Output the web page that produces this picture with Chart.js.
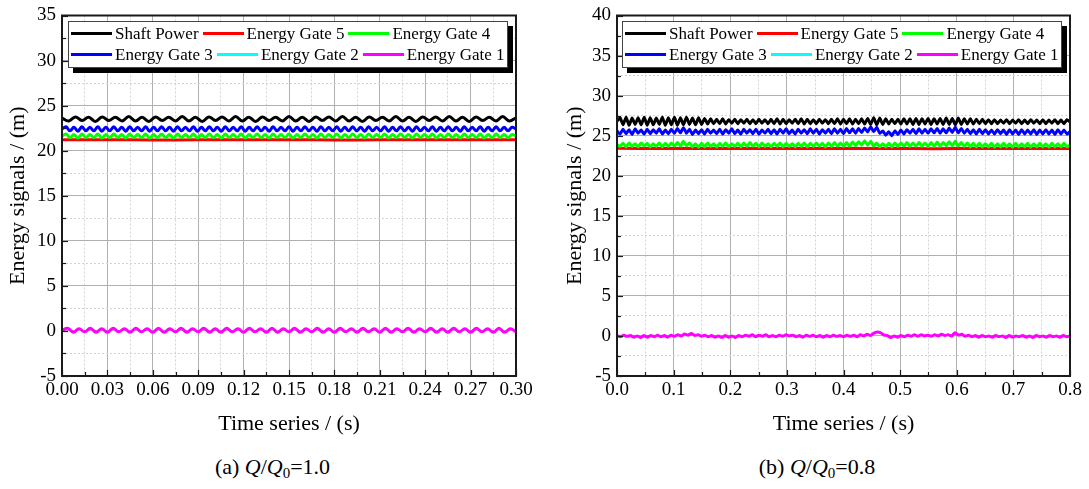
<!DOCTYPE html>
<html>
<head>
<meta charset="utf-8">
<script src="https://cdn.jsdelivr.net/npm/chart.js@4.4.1/dist/chart.umd.min.js"></script>
<style>
    body { margin: 0; background: #fff; width: 1089px; height: 489px; overflow: hidden; position: relative; }
    .panel { position: absolute; top: 0; }
    .panel canvas { position: absolute; top: 0; left: 0; }
    .leyenda {
        position: absolute; background: #fff; border: 1px solid #444;
        box-shadow: 5px 5px 0 #000; padding: 1px 2px 2px 2px;
        font: 17px 'Liberation Serif', serif; line-height: 21px; color: #000;
    }
    .fila { display: flex; gap: 4px; white-space: nowrap; }
    .item { display: flex; align-items: center; }
    .trazo { display: inline-block; width: 41px; height: 3px; margin-right: 3px; }
    .pie {
        position: absolute; top: 454px; width: 100%; text-align: center;
        font: 22px 'Liberation Serif', serif; color: #000;
    }
    .pie sub { font-size: 0.68em; vertical-align: -0.25em; }
</style>
</head>
<body>

<div class="panel" style="left:0; width:545px; height:489px;">
    <canvas id="grafico_a" width="545" height="445"></canvas>
    <div class="leyenda" id="leyenda_a" style="left:68px; top:21px;"></div>
    <div class="pie">(a) <i>Q</i>/<i>Q</i><sub>0</sub>=1.0</div>
</div>

<div class="panel" style="left:557px; width:532px; height:489px;">
    <canvas id="grafico_b" width="532" height="445"></canvas>
    <div class="leyenda" id="leyenda_b" style="left:65px; top:21px;"></div>
    <div class="pie" style="left:-12px; width:544px;">(b) <i>Q</i>/<i>Q</i><sub>0</sub>=0.8</div>
</div>

<script>
// Series names and colours (same order as the legend)
const nombres_series = ['Shaft Power', 'Energy Gate 5', 'Energy Gate 4', 'Energy Gate 3', 'Energy Gate 2', 'Energy Gate 1'];
const colores_series = ['#000000', '#ff0000', '#00ff00', '#0000ff', '#00ffff', '#ff00ff'];

// Tick labels
const etiquetas_x_a = ['0.00', '0.03', '0.06', '0.09', '0.12', '0.15', '0.18', '0.21', '0.24', '0.27', '0.30'];
const etiquetas_y_a = ['-5', '0', '5', '10', '15', '20', '25', '30', '35'];
const etiquetas_x_b = ['0.0', '0.1', '0.2', '0.3', '0.4', '0.5', '0.6', '0.7', '0.8'];
const etiquetas_y_b = ['-5', '0', '5', '10', '15', '20', '25', '30', '35', '40'];

// Time span of each record (s), samples are evenly spaced over it
const duracion_a = 0.3;
const duracion_b = 0.8;

// ---- Q/Q0 = 1.0 ----
const shaft_a = [
    23.6, 23.3, 23.75, 23.35, 23.7, 23.25, 23.75, 23.35, 23.7, 23.3,
    23.8, 23.3, 23.7, 23.25, 23.75, 23.35, 23.7, 23.3, 23.8, 23.3,
    23.7, 23.25, 23.75, 23.35, 23.75, 23.3, 23.8, 23.3, 23.7, 23.25,
    23.75, 23.35, 23.7, 23.3, 23.8, 23.3, 23.7, 23.25, 23.75, 23.35,
    23.75, 23.3, 23.8, 23.3, 23.7, 23.25, 23.75, 23.35, 23.7, 23.3,
    23.8, 23.3, 23.7, 23.25, 23.75, 23.35, 23.75, 23.3, 23.8, 23.3,
    23.7, 23.25, 23.75, 23.35, 23.7, 23.3, 23.8, 23.3, 23.65
];
const gate5_a = [21.2, 21.21, 21.19, 21.2, 21.2, 21.21, 21.19, 21.2, 21.2, 21.21, 21.2];
const gate4_a = [
    21.6, 21.85,
    21.45, 21.8, 21.4, 21.85, 21.45, 21.8, 21.45, 21.85, 21.4, 21.8,
    21.45, 21.85, 21.45, 21.8, 21.4, 21.85, 21.45, 21.8, 21.45, 21.85,
    21.4, 21.8, 21.45, 21.85, 21.45, 21.8, 21.4, 21.85, 21.45, 21.8,
    21.45, 21.85, 21.4, 21.8, 21.45, 21.85, 21.45, 21.8, 21.4, 21.85,
    21.45, 21.8, 21.45, 21.85, 21.4, 21.8, 21.45, 21.85, 21.45, 21.8,
    21.4, 21.85, 21.45, 21.8, 21.45, 21.85, 21.4, 21.8, 21.45, 21.85,
    21.45, 21.8, 21.4, 21.85, 21.45, 21.8, 21.45, 21.85, 21.4, 21.8,
    21.45, 21.85, 21.45, 21.8, 21.4, 21.85, 21.45, 21.8, 21.45, 21.85,
    21.4, 21.8, 21.45, 21.85, 21.45, 21.8, 21.4, 21.85, 21.45, 21.8,
    21.45, 21.85, 21.4, 21.8, 21.45, 21.85, 21.45, 21.8, 21.4, 21.85,
    21.45, 21.8, 21.45, 21.85, 21.4, 21.8, 21.45, 21.85, 21.45, 21.8,
    21.45, 21.8, 21.6
];
const gate3_a = [
    22.4, 22.65,
    22.2, 22.6, 22.15, 22.65, 22.2, 22.6, 22.2, 22.65, 22.15, 22.6,
    22.2, 22.65, 22.2, 22.6, 22.15, 22.65, 22.2, 22.6, 22.2, 22.65,
    22.15, 22.6, 22.2, 22.65, 22.2, 22.6, 22.15, 22.65, 22.2, 22.6,
    22.2, 22.65, 22.15, 22.6, 22.2, 22.65, 22.2, 22.6, 22.15, 22.65,
    22.2, 22.6, 22.2, 22.65, 22.15, 22.6, 22.2, 22.65, 22.2, 22.6,
    22.15, 22.65, 22.2, 22.6, 22.2, 22.65, 22.15, 22.6, 22.2, 22.65,
    22.2, 22.6, 22.15, 22.65, 22.2, 22.6, 22.2, 22.65, 22.15, 22.6,
    22.2, 22.65, 22.2, 22.6, 22.15, 22.65, 22.2, 22.6, 22.2, 22.65,
    22.15, 22.6, 22.2, 22.65, 22.2, 22.6, 22.15, 22.65, 22.2, 22.6,
    22.2, 22.65, 22.15, 22.6, 22.2, 22.65, 22.2, 22.6, 22.15, 22.65,
    22.2, 22.6, 22.2, 22.65, 22.15, 22.6, 22.2, 22.65, 22.2, 22.6,
    22.2, 22.6, 22.4
];
const gate1_a = [
    0.05,
    0.3, -0.15, 0.25, -0.1, 0.3, -0.15, 0.25, -0.15, 0.3, -0.1,
    0.25, -0.15, 0.3, -0.1, 0.25, -0.15, 0.3, -0.15, 0.25, -0.1,
    0.3, -0.15, 0.25, -0.1, 0.3, -0.15, 0.25, -0.15, 0.3, -0.1,
    0.25, -0.15, 0.3, -0.1, 0.25, -0.15, 0.3, -0.15, 0.25, -0.1,
    0.3, -0.15, 0.25, -0.1, 0.3, -0.15, 0.25, -0.15, 0.3, -0.1,
    0.25, -0.15, 0.3, -0.1, 0.25, -0.15, 0.3, -0.15, 0.25, -0.1,
    0.3, -0.15, 0.25, -0.1, 0.3, -0.15, 0.25, -0.15, 0.3, -0.1,
    0.25, -0.15, 0.3, -0.1, 0.25, -0.15, 0.3, -0.15, 0.25, -0.1
];
// Energy Gate 2 runs exactly under Energy Gate 1
const gate2_a = gate1_a;

// ---- Q/Q0 = 0.8 ----
const shaft_b = [
    26.8, 27.25, 26.35, 27.3, 26.3, 27.2, 26.4, 27.25, 26.35, 27.3,
    26.3, 27.25, 26.35, 27.2, 26.4, 27.3, 26.3, 27.25, 26.35, 27.3,
    26.3, 27.25, 26.35, 27.3, 26.4, 27.2, 26.35, 27.25, 26.4,
    27.15, 26.45, 27.1, 26.5, 27.05, 26.5, 27.1, 26.45, 27.0, 26.55,
    27.05, 26.5, 27.0, 26.55, 27.05, 26.5, 27.0, 26.5, 27.05, 26.55,
    27.0, 26.5, 27.05, 26.5, 27.1, 26.45, 27.05, 26.5, 27.0, 26.55,
    27.05, 26.5, 27.1, 26.45, 27.05, 26.5, 27.0, 26.5, 27.05, 26.55,
    27.0, 26.5, 27.05, 26.5, 27.1, 26.45, 27.05, 26.5, 27.1, 26.45,
    27.05, 26.5, 27.1, 26.45, 27.15, 26.4,
    27.25, 26.35, 27.2, 26.4, 27.1, 26.45, 27.05, 26.5, 27.05, 26.45,
    27.1, 26.45, 27.1, 26.4, 27.15, 26.4, 27.1, 26.45, 27.15, 26.4,
    27.1, 26.45, 27.15, 26.4, 27.2, 26.4, 27.15, 26.35, 27.2, 26.4,
    27.1, 26.45, 27.1, 26.45, 27.05, 26.5, 27.05, 26.5,
    27.0, 26.5, 27.0, 26.5, 26.95, 26.55, 27.0, 26.5, 26.95, 26.55,
    27.0, 26.5, 26.95, 26.5, 27.0, 26.55, 26.95, 26.5, 27.0, 26.5,
    26.95, 26.55, 27.0, 26.5, 26.95, 26.5, 27.0, 26.7
];
const gate5_b = [23.42, 23.4, 23.41, 23.39, 23.4, 23.41, 23.4, 23.38, 23.4, 23.41, 23.4];
const gate4_b = [
    23.9, 23.65, 24.05, 23.6, 24.1, 23.65, 24.0, 23.6, 24.1, 23.7,
    24.05, 23.6, 24.0, 23.65, 24.1, 23.6, 24.05, 23.65, 24.1, 23.7,
    24.15, 23.7, 24.3, 23.75, 24.1, 23.6, 24.0, 23.55, 24.05, 23.6,
    24.1, 23.65, 24.0, 23.6, 24.05, 23.65, 24.1, 23.6, 24.0, 23.65,
    24.05, 23.6, 24.1, 23.65, 24.15, 23.7, 24.05, 23.6, 24.1, 23.65,
    24.0, 23.6, 24.05, 23.65, 24.1, 23.6, 24.05, 23.65, 24.0, 23.6,
    24.05, 23.65, 24.1, 23.6, 24.05, 23.65, 24.1, 23.7, 24.05, 23.6,
    24.1, 23.65, 24.15, 23.7, 24.1, 23.65, 24.15, 23.7, 24.2, 23.75,
    24.25, 23.8, 24.35, 23.8, 24.3, 23.7, 24.1, 23.6, 24.0, 23.6,
    24.05, 23.6, 24.1, 23.65, 24.1, 23.7, 24.15, 23.65, 24.1, 23.7,
    24.15, 23.7, 24.1, 23.65, 24.15, 23.7, 24.2, 23.7, 24.15, 23.75,
    24.25, 23.75, 24.3, 23.7, 24.15, 23.65, 24.1, 23.6, 24.05, 23.6,
    24.05, 23.6, 24.0, 23.6, 24.05, 23.55, 24.0, 23.6, 24.05, 23.6,
    24.0, 23.55, 24.05, 23.6, 24.0, 23.6, 24.05, 23.55, 24.0, 23.6,
    24.05, 23.6, 24.0, 23.55, 24.05, 23.6, 24.0, 23.6, 24.05, 23.6,
    23.85
];
const gate3_b = [
    25.6, 25.2, 25.8, 25.25, 25.75, 25.15, 25.85, 25.3, 25.7, 25.2,
    25.8, 25.25, 25.75, 25.3, 25.85, 25.2, 25.7, 25.25, 25.8, 25.3,
    25.9, 25.35, 26.0, 25.3, 25.8, 25.15, 25.7, 25.25, 25.75, 25.2,
    25.8, 25.3, 25.7, 25.25, 25.8, 25.2, 25.75, 25.3, 25.85, 25.25,
    25.7, 25.2, 25.8, 25.3, 25.75, 25.25, 25.8, 25.2, 25.7, 25.3,
    25.8, 25.25, 25.75, 25.2, 25.8, 25.3, 25.85, 25.25, 25.7, 25.2,
    25.8, 25.3, 25.75, 25.25, 25.85, 25.3, 25.8, 25.2, 25.75, 25.3,
    25.8, 25.25, 25.85, 25.3, 25.8, 25.25, 25.9, 25.35, 25.85, 25.3,
    25.9, 25.4, 25.95, 25.45, 26.1, 25.5, 26.05, 25.3, 25.6, 25.05,
    25.5, 25.0, 25.6, 25.15, 25.7, 25.2, 25.75, 25.3, 25.8, 25.25,
    25.85, 25.3, 25.8, 25.3, 25.85, 25.35, 25.9, 25.3, 25.85, 25.35,
    25.95, 25.4, 26.05, 25.35, 25.9, 25.3, 25.8, 25.25, 25.75, 25.2,
    25.8, 25.25, 25.75, 25.2, 25.7, 25.2, 25.75, 25.25, 25.7, 25.15,
    25.75, 25.2, 25.7, 25.15, 25.75, 25.2, 25.7, 25.2, 25.75, 25.15,
    25.7, 25.2, 25.75, 25.2, 25.7, 25.15, 25.75, 25.2, 25.7, 25.2,
    25.5
];
const gate1_b = [
    0.05, -0.1, 0.1, -0.05, 0.05, -0.15, 0.0, -0.2, 0.05, -0.15,
    0.05, -0.1, 0.1, -0.1, 0.05, -0.15, 0.1, -0.05, 0.15, 0.0,
    0.25, 0.1, 0.3, 0.05, 0.15, -0.05, 0.1, -0.1, 0.05, -0.15,
    0.0, -0.2, 0.05, -0.15, 0.0, -0.2, 0.05, -0.1, 0.1, -0.05,
    0.15, -0.1, 0.1, -0.05, 0.15, -0.1, 0.05, -0.1, 0.1, -0.05,
    0.15, 0.0, 0.1, -0.1, 0.05, -0.15, 0.1, -0.05, 0.1, -0.1,
    0.05, -0.15, 0.05, -0.1, 0.1, -0.05, 0.05, -0.1, 0.1, -0.05,
    0.1, -0.1, 0.15, 0.0, 0.2, 0.05, 0.35, 0.5, 0.4, 0.1,
    0.05, -0.2, 0.0, -0.15, 0.05, -0.1, 0.1, -0.05, 0.15, -0.05,
    0.15, 0.0, 0.1, -0.05, 0.15, 0.0, 0.2, 0.05, 0.15, 0.0,
    0.4, 0.1, 0.2, -0.05, 0.1, -0.1, 0.05, -0.15, 0.05, -0.1,
    0.0, -0.15, 0.05, -0.1, 0.0, -0.2, 0.05, -0.15, 0.0, -0.1,
    0.05, -0.15, 0.0, -0.2, 0.05, -0.1, 0.0, -0.15, 0.05, -0.1,
    0.0, -0.15, 0.05, -0.1, 0.0
];
const gate2_b = gate1_b;

const fuente = 'Liberation Serif';
Chart.defaults.font.family = fuente;
Chart.defaults.color = '#000';

// Samples spread evenly over the record length
function puntos(valores, duracion) {
    const paso = duracion / (valores.length - 1);
    return valores.map((v, i) => ({ x: i * paso, y: v }));
}

// Frame around the plot area plus short inward tick marks (bottom and left)
const marco_plugin = {
    id: 'marco',
    afterDatasetsDraw(chart) {
        const { ctx, chartArea: a, scales: { x, y } } = chart;
        ctx.save();
        ctx.strokeStyle = '#1a1a1a';
        ctx.lineWidth = 1.2;
        x.ticks.forEach(t => {
            const px = Math.round(x.getPixelForValue(t.value)) + 0.5;
            const largo = t.label ? 6 : 4;
            ctx.beginPath();
            ctx.moveTo(px, a.bottom);
            ctx.lineTo(px, a.bottom - largo);
            ctx.stroke();
        });
        y.ticks.forEach(t => {
            const py = Math.round(y.getPixelForValue(t.value)) + 0.5;
            const largo = t.label ? 6 : 4;
            ctx.beginPath();
            ctx.moveTo(a.left, py);
            ctx.lineTo(a.left + largo, py);
            ctx.stroke();
        });
        ctx.lineWidth = 2;
        ctx.strokeRect(a.left, a.top, a.right - a.left, a.bottom - a.top);
        ctx.restore();
    }
};

function crear_grafico(id_canvas, series, duracion, eje_x, eje_y, margenes, curvatura) {
    const ctx = document.getElementById(id_canvas).getContext('2d');
    const datasets = series.map((valores, i) => ({
        label: nombres_series[i],
        data: puntos(valores, duracion),
        borderColor: colores_series[i],
        borderWidth: i === 4 ? 1.5 : 3,
        pointRadius: 0,
        tension: curvatura,
        fill: false,
        // lower order is painted last: Energy Gate 1 on top, Shaft Power underneath
        order: nombres_series.length - i
    }));

    const rejilla = {
        color: c => (c.index % 2 === 1 ? '#d4d4d4' : '#b0b0b0'),
        lineWidth: 1,
        drawTicks: false
    };
    const borde = {
        display: false,
        dash: c => (c.index % 2 === 1 ? [2, 2] : [])
    };

    return new Chart(ctx, {
        type: 'line',
        data: { datasets: datasets },
        plugins: [marco_plugin],
        options: {
            responsive: false,
            animation: false,
            devicePixelRatio: 1,
            layout: { padding: { left: 0, right: margenes.derecho, top: 11, bottom: 0 } },
            plugins: { legend: { display: false }, tooltip: { enabled: false } },
            scales: {
                x: {
                    type: 'linear',
                    min: 0,
                    max: duracion,
                    grid: rejilla,
                    border: borde,
                    ticks: {
                        stepSize: eje_x.paso / 2,
                        autoSkip: false,
                        maxRotation: 0,
                        padding: 5,
                        font: { size: 19, lineHeight: 1 },
                        callback: (v, i) => (i % 2 === 0 ? eje_x.etiquetas[i / 2] : '')
                    },
                    title: {
                        display: true,
                        text: 'Time series / (s)',
                        font: { size: 22 },
                        padding: { top: 0, bottom: 8 }
                    },
                    afterFit: s => { s.height = 69; }
                },
                y: {
                    min: eje_y.min,
                    max: eje_y.max,
                    grid: rejilla,
                    border: borde,
                    ticks: {
                        stepSize: eje_y.paso / 2,
                        autoSkip: false,
                        padding: 6,
                        font: { size: 19, lineHeight: 1 },
                        callback: (v, i) => (i % 2 === 0 ? eje_y.etiquetas[i / 2] : '')
                    },
                    title: {
                        display: true,
                        text: 'Energy signals / (m)',
                        font: { size: 22 },
                        padding: { top: 5, bottom: 0 }
                    },
                    afterFit: s => { s.width = margenes.izquierdo; }
                }
            }
        }
    });
}

// Legend drawn as an html box inside the plot area
function crear_leyenda(id) {
    const caja = document.getElementById(id);
    [[0, 1, 2], [3, 4, 5]].forEach(fila => {
        const div_fila = document.createElement('div');
        div_fila.className = 'fila';
        fila.forEach(i => {
            const item = document.createElement('span');
            item.className = 'item';
            const trazo = document.createElement('span');
            trazo.className = 'trazo';
            trazo.style.background = colores_series[i];
            item.appendChild(trazo);
            item.appendChild(document.createTextNode(nombres_series[i]));
            div_fila.appendChild(item);
        });
        caja.appendChild(div_fila);
    });
}

crear_grafico('grafico_a',
    [shaft_a, gate5_a, gate4_a, gate3_a, gate2_a, gate1_a], duracion_a,
    { paso: 0.03, etiquetas: etiquetas_x_a },
    { min: -5, max: 35, paso: 5, etiquetas: etiquetas_y_a },
    { izquierdo: 62, derecho: 29 }, 0.4);

crear_grafico('grafico_b',
    [shaft_b, gate5_b, gate4_b, gate3_b, gate2_b, gate1_b], duracion_b,
    { paso: 0.1, etiquetas: etiquetas_x_b },
    { min: -5, max: 40, paso: 5, etiquetas: etiquetas_y_b },
    { izquierdo: 60, derecho: 19 }, 0.15);

crear_leyenda('leyenda_a');
crear_leyenda('leyenda_b');
</script>
</body>
</html>
